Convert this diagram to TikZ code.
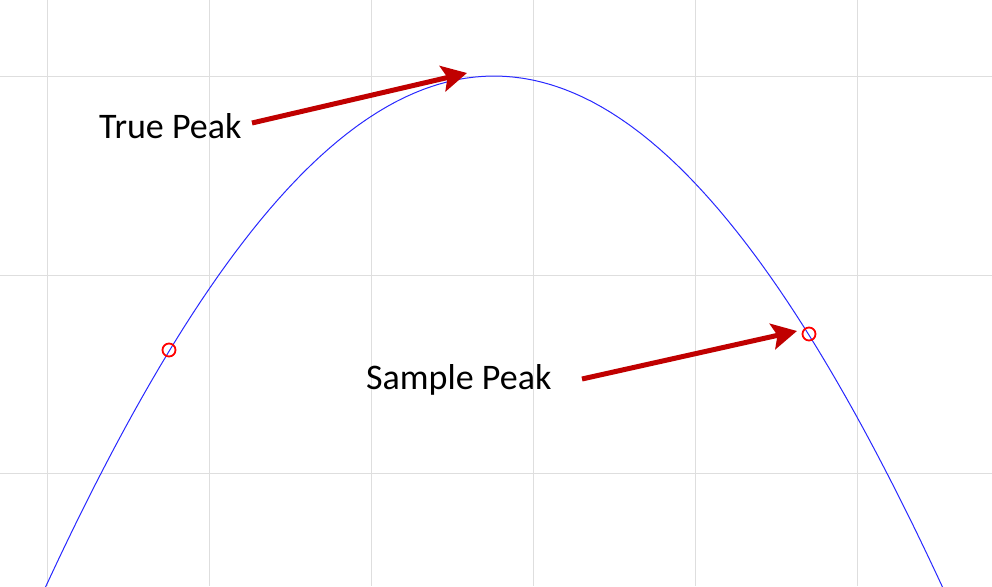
\documentclass[tikz,border=0pt]{standalone}
\usepackage{fontspec}
\setmainfont{Carlito}
\usetikzlibrary{arrows.meta}
\definecolor{gridgray}{RGB}{222,222,222}
\definecolor{arrowred}{RGB}{192,0,0}
\definecolor{curveblue}{RGB}{40,40,255}
\tikzset{
  gridline/.style={draw=gridgray, line width=1pt},
  curveline/.style={draw=curveblue, line width=1pt},
  samplept/.style={circle, draw=red, line width=1.8pt, minimum size=13pt, inner sep=0pt},
  redarrow/.style={draw=arrowred, line width=5pt, -{Stealth[length=25pt, width=26pt, inset=5pt]}},
  label/.style={font=\fontsize{36}{40}\selectfont, inner sep=0pt, anchor=base west}
}
\begin{document}
\begin{tikzpicture}[x=1pt, y=-1pt]
\useasboundingbox (0,0) rectangle (992,586);
\clip (0,0) rectangle (992,586);
\fill[white] (0,0) rectangle (992,586);
% grid
\foreach \gx in {47,209,371,533,695,857} {\draw[gridline] (\gx,0) -- (\gx,586);}
\foreach \gy in {76,275,473} {\draw[gridline] (0,\gy) -- (992,\gy);}
% curve
\draw[curveline] plot[domain=42:946, samples=200, smooth] (\x, {76 + 1681*(1-cos(0.10233*(\x-494)))});
% sample points
\node[samplept] (s1) at (169,350) {};
\node[samplept] (s2) at (809,334) {};
% labels
\node[label] (tp) at (99,138) {True Peak};
\node[label] (sp) at (366,389) {Sample Peak};
% arrow coordinates
\coordinate (a1s) at (252,123);
\coordinate (a1e) at (467,73);
\coordinate (a2s) at (582,379);
\coordinate (a2e) at (797,331);
\draw[redarrow] (a1s) -- (a1e);
\draw[redarrow] (a2s) -- (a2e);
\end{tikzpicture}
\end{document}
